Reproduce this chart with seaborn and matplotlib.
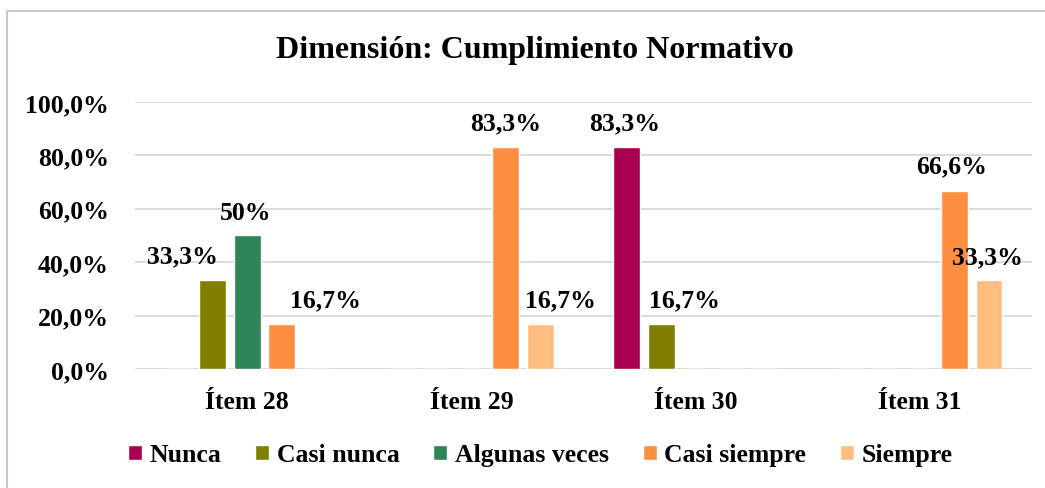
import numpy as np
import pandas as pd
import matplotlib
matplotlib.use('Agg')
import matplotlib.pyplot as plt
import matplotlib.patches as mpatches
from matplotlib.ticker import FuncFormatter
import seaborn as sns

# datos del grafico
items = ['Ítem 28', 'Ítem 29', 'Ítem 30', 'Ítem 31']
categorias = ['Nunca', 'Casi nunca', 'Algunas veces', 'Casi siempre', 'Siempre']
nunca = [0, 0, 83.3, 0]
casi_nunca = [33.3, 0, 16.7, 0]
algunas_veces = [50, 0, 0, 0]
casi_siempre = [16.7, 83.3, 0, 66.6]
siempre = [0, 16.7, 0, 33.3]
colores = ['#A8004F', '#808000', '#2E8558', '#FF8F40', '#FFBE80']

# desplazamiento de las etiquetas (pixeles) respecto al tope de cada barra
offsets = {
    ('Ítem 28', 'Casi nunca'): (-30, 24),
    ('Ítem 28', 'Algunas veces'): (-2, 23),
    ('Ítem 28', 'Casi siempre'): (44, 25),
    ('Ítem 29', 'Casi siempre'): (0, 24),
    ('Ítem 29', 'Siempre'): (20, 25),
    ('Ítem 30', 'Nunca'): (-2, 24),
    ('Ítem 30', 'Casi nunca'): (23, 25),
    ('Ítem 31', 'Casi siempre'): (-3, 25),
    ('Ítem 31', 'Siempre'): (-2, 23),
}

series = [nunca, casi_nunca, algunas_veces, casi_siempre, siempre]
rows = []
for cat, vals in zip(categorias, series):
    for it, v in zip(items, vals):
        rows.append({'item': it, 'categoria': cat, 'valor': v})
df = pd.DataFrame(rows)

sns.set_style('white')
plt.rcParams['font.family'] = ['Liberation Serif', 'DejaVu Serif']
plt.rcParams['font.weight'] = 'bold'
plt.rcParams['text.color'] = 'black'
plt.rcParams['xtick.color'] = 'black'
plt.rcParams['ytick.color'] = 'black'

fs = 18.5
fig = plt.figure(figsize=(10.45, 4.89), dpi=100)
ax = fig.add_axes([0.1292, 0.2434, 0.8584, 0.546])

sns.barplot(data=df, x='item', y='valor', hue='categoria', order=items,
            hue_order=categorias, palette=colores, saturation=1,
            width=0.77, gap=0.22, ax=ax, legend=True)

ax.set_ylim(0, 100)
ax.set_xlim(-0.5, 3.5)
ax.set_yticks(np.arange(0, 101, 20))
ax.yaxis.set_major_formatter(FuncFormatter(lambda v, p: f'{v:.1f}'.replace('.', ',') + '%'))
ax.tick_params(axis='y', length=0, pad=19, labelsize=fs, labelcolor='black')
ax.tick_params(axis='x', length=0, pad=15, labelsize=fs, labelcolor='black')
for lbl in ax.get_xticklabels() + ax.get_yticklabels():
    lbl.set_fontweight('bold')
ax.set_xlabel('')
ax.set_ylabel('')
ax.grid(axis='y', color='#D9D9D9', linewidth=1.3)
ax.set_axisbelow(True)
for s in ax.spines.values():
    s.set_visible(False)

# etiquetas de datos
for cat, cont in zip(categorias, ax.containers):
    for it, bar in zip(items, cont):
        h = bar.get_height()
        if h <= 0:
            continue
        txt = (f'{h:g}' if float(h).is_integer() else f'{h:.1f}').replace('.', ',') + '%'
        dx, dy = offsets.get((it, cat), (0, 24))
        ax.annotate(txt, (bar.get_x() + bar.get_width() / 2, h),
                    xytext=(dx, dy), textcoords='offset pixels',
                    ha='center', va='center', fontsize=fs, fontweight='bold',
                    color='black')

handles, labels = ax.get_legend_handles_labels()
ax.legend_.remove()
fig.legend(handles, labels, loc='center', bbox_to_anchor=(0.517, 0.0675),
           ncol=5, frameon=False, handlelength=0.55,
           handleheight=0.55, handletextpad=0.3, columnspacing=1.3,
           prop={'weight': 'bold', 'size': fs})

fig.suptitle('Dimensión: Cumplimiento Normativo', x=0.512, y=0.897,
             fontsize=23, fontweight='bold', va='center', color='black')

# marco del grafico
fig.patches.append(mpatches.Rectangle((7 / 1045, -0.1), 1.2, 1 - 12 / 489 + 0.1,
                                      transform=fig.transFigure, fill=False,
                                      edgecolor='#C8C8C8', linewidth=1.5))

fig.savefig('out.png', dpi=100)
plt.close()
